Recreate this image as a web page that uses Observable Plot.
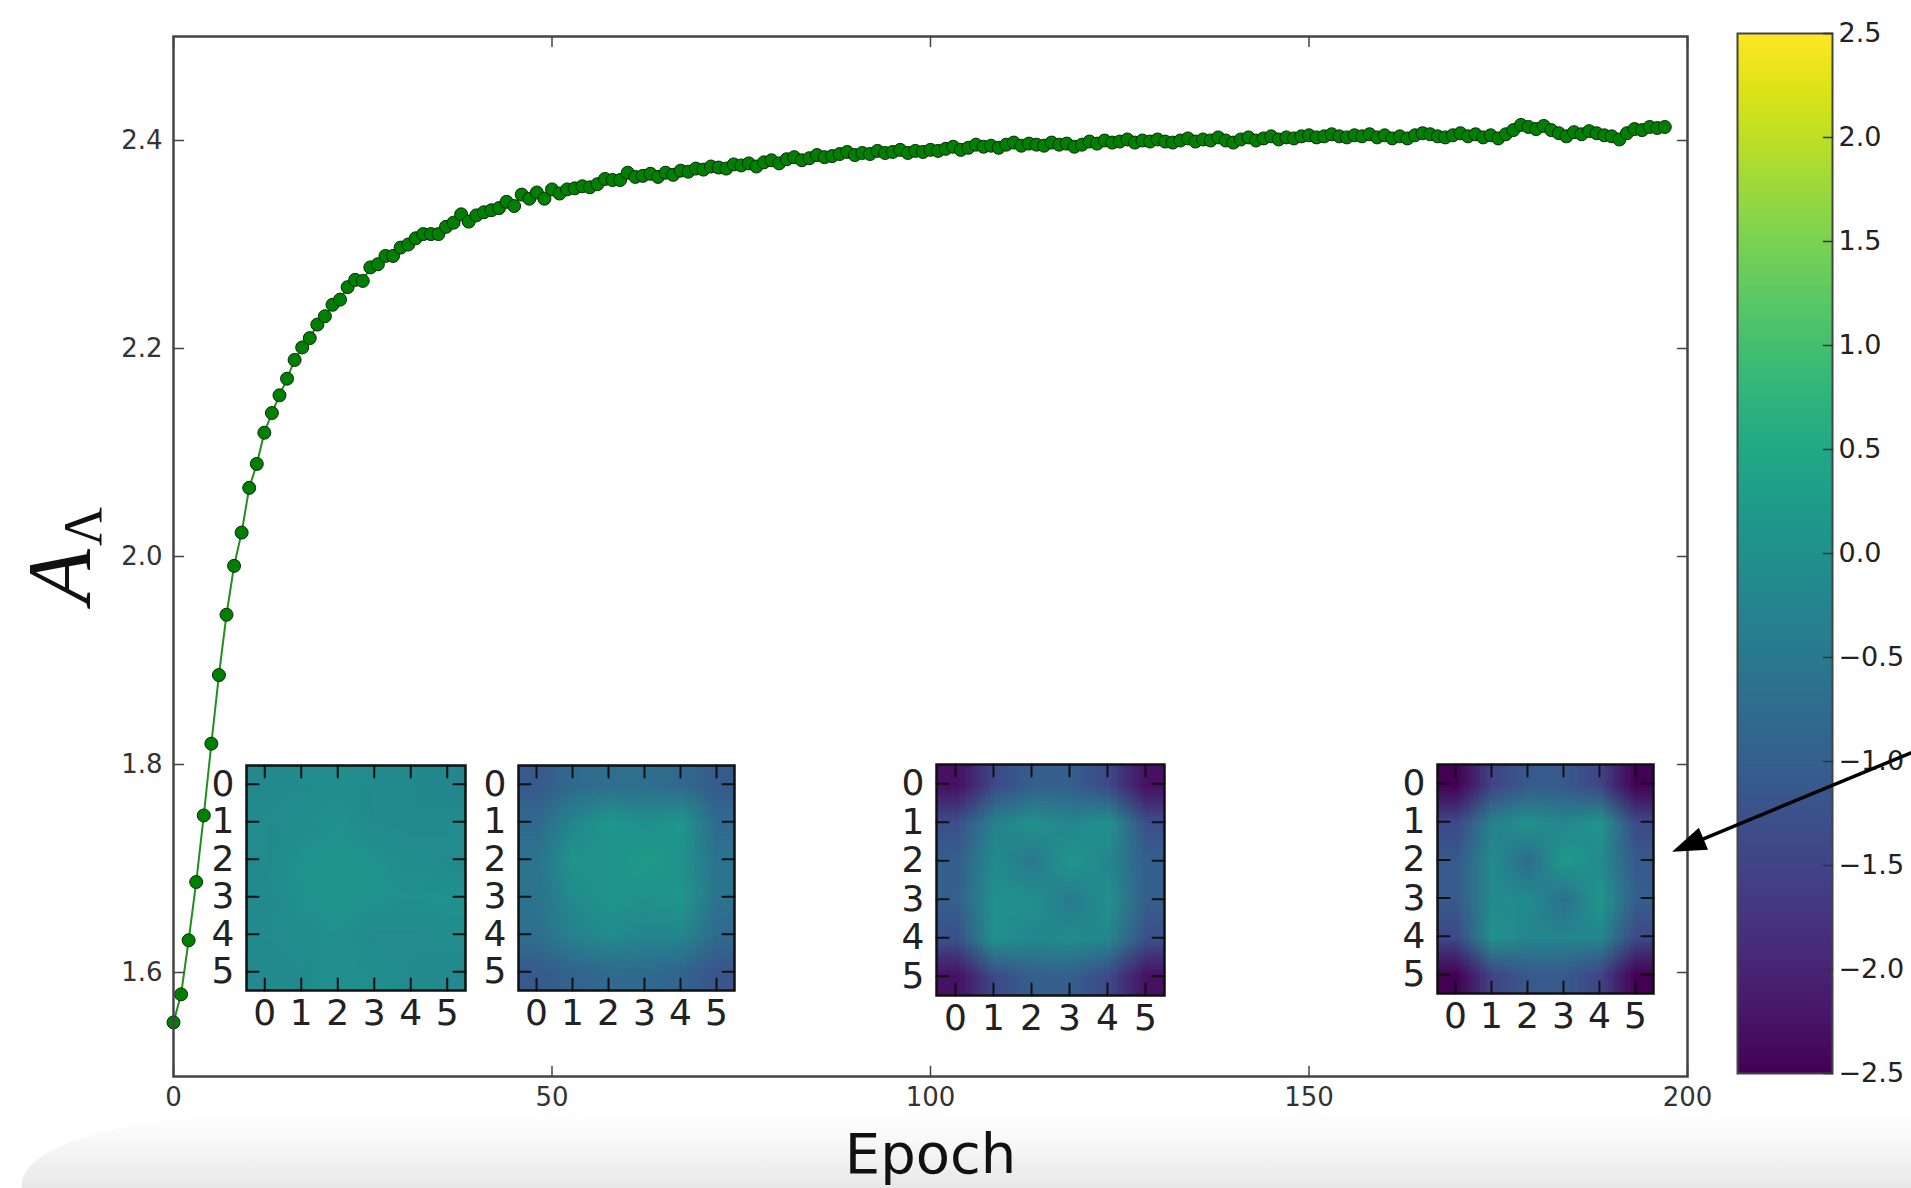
<!DOCTYPE html>
<html><head><meta charset="utf-8">
<script src="https://cdn.jsdelivr.net/npm/d3@7"></script>
<script src="https://cdn.jsdelivr.net/npm/@observablehq/plot@0.6"></script>
<style>
html,body{margin:0;padding:0;background:#fff;overflow:hidden;}
#page{position:relative;width:1911px;height:1188px;overflow:hidden;background:#fff;font-family:"DejaVu Sans",sans-serif;}
#band{position:absolute;left:22px;top:1112px;width:1920px;height:90px;border-top-left-radius:260px 72px;background:linear-gradient(to bottom,#ffffff 0%,#f7f7f7 35%,#e3e3e3 100%);}
</style></head><body><div id="page"><div id="band"></div></div>
<script>
// ---------- data ----------
const epochValues = [
1.552,1.579,1.631,1.687,1.751,1.820,1.886,1.944,1.991,2.023,
2.066,2.089,2.119,2.138,2.155,2.171,2.189,2.201,2.210,2.223,
2.231,2.242,2.247,2.259,2.266,2.265,2.278,2.281,2.289,2.289,
2.297,2.300,2.306,2.310,2.310,2.310,2.317,2.321,2.329,2.322,
2.328,2.331,2.333,2.335,2.341,2.337,2.348,2.344,2.350,2.344,
2.353,2.349,2.353,2.354,2.356,2.355,2.358,2.363,2.362,2.362,
2.369,2.365,2.366,2.368,2.365,2.369,2.367,2.371,2.370,2.373,
2.372,2.375,2.374,2.373,2.377,2.376,2.378,2.375,2.379,2.381,
2.378,2.382,2.384,2.381,2.383,2.386,2.384,2.385,2.387,2.389,
2.386,2.388,2.387,2.390,2.388,2.389,2.391,2.388,2.390,2.389,
2.391,2.390,2.392,2.394,2.391,2.393,2.396,2.394,2.395,2.393,
2.396,2.398,2.395,2.397,2.396,2.395,2.398,2.396,2.397,2.394,
2.396,2.399,2.397,2.400,2.398,2.399,2.401,2.398,2.400,2.399,
2.401,2.399,2.398,2.400,2.402,2.399,2.401,2.400,2.403,2.400,
2.398,2.401,2.403,2.400,2.402,2.404,2.401,2.403,2.402,2.404,
2.405,2.403,2.404,2.406,2.404,2.403,2.405,2.404,2.406,2.403,
2.405,2.402,2.404,2.402,2.405,2.407,2.406,2.404,2.403,2.405,
2.407,2.404,2.406,2.403,2.405,2.402,2.406,2.410,2.415,2.413,
2.411,2.414,2.410,2.407,2.404,2.408,2.406,2.409,2.407,2.405,
2.404,2.401,2.407,2.411,2.410,2.413,2.412,2.413
];
const xTicks = [0, 50, 100, 150, 200];
const yTicks = [1.6, 1.8, 2.0, 2.2, 2.4];
const colorbarTicks = [-2.5, -2.0, -1.5, -1.0, -0.5, 0.0, 0.5, 1.0, 1.5, 2.0, 2.5];
const insetTicks = [0, 1, 2, 3, 4, 5];

const inset1Matrix = [
  [-0.15, -0.10, -0.05, -0.10, -0.15, -0.20],
  [-0.10, -0.05,  0.00, -0.10, -0.15, -0.10],
  [-0.10,  0.05,  0.10,  0.05, -0.05, -0.10],
  [-0.15,  0.05,  0.10,  0.05,  0.00,  0.05],
  [-0.10, -0.05,  0.00, -0.10, -0.10, -0.05],
  [-0.15, -0.10,  0.00, -0.05, -0.10, -0.15]
];
const inset2Matrix = [
  [-1.10, -0.80, -0.70, -0.70, -0.80, -1.10],
  [-0.80, -0.20,  0.15, -0.05,  0.15, -0.80],
  [-0.60,  0.10,  0.00,  0.25,  0.00, -0.60],
  [-0.60, -0.10,  0.10,  0.00,  0.15, -0.60],
  [-0.70, -0.30, -0.10, -0.20, -0.20, -0.80],
  [-1.10, -0.90, -0.80, -0.80, -0.90, -1.20]
];
const inset3Matrix = [
  [-2.30, -1.40, -1.00, -1.00, -1.40, -2.30],
  [-1.30, -0.30,  0.00, -0.20,  0.05, -1.30],
  [-1.00, -0.10, -0.50,  0.15, -0.20, -1.00],
  [-1.00,  0.00,  0.00, -0.45,  0.00, -1.00],
  [-1.30,  0.05, -0.20, -0.10, -0.20, -1.30],
  [-2.30, -1.40, -1.00, -1.00, -1.40, -2.30]
];
const inset4Matrix = [
  [-2.50, -1.50, -1.10, -1.10, -1.50, -2.50],
  [-1.40, -0.30,  0.00, -0.20,  0.10, -1.40],
  [-1.10, -0.10, -0.75,  0.20, -0.10, -1.10],
  [-1.10, -0.10, -0.10, -0.65,  0.15, -1.00],
  [-1.40,  0.05, -0.20, -0.20, -0.20, -1.40],
  [-2.50, -1.50, -1.10, -1.10, -1.50, -2.50]
];
const arrowAnnotation = [{epoch: 198.6, value: 1.718}];

// ---------- helpers ----------
const tickShape = {draw(ctx, l) { ctx.moveTo(0, 0); ctx.lineTo(0, -l); }};
const arrowShape = {draw(ctx, l) {
  const h = 27, w = 9.5;
  ctx.moveTo(0, 0); ctx.lineTo(0, -l + h * 0.8);
  ctx.moveTo(0, -l); ctx.lineTo(-w, -l + h); ctx.lineTo(w, -l + h); ctx.closePath();
}};
const viridis = {type: "linear", scheme: "viridis", domain: [-2.5, 2.5]};
const page = document.getElementById("page");
function place(el, left, top) {
  el.style.position = "absolute";
  el.style.left = left + "px";
  el.style.top = top + "px";
  page.appendChild(el);
}

// ---------- colorbar ----------
const colorbar = Plot.plot({
  width: 211, height: 1188,
  marginLeft: 37, marginRight: 79, marginTop: 33, marginBottom: 115,
  style: {background: "transparent", overflow: "visible", color: "#222", fontFamily: "DejaVu Sans"},
  x: {domain: [0, 1], axis: null},
  y: {domain: [-2.5, 2.5]},
  color: viridis,
  marks: [
    Plot.raster(null, {x1: 0, x2: 1, y1: -2.5, y2: 2.5, fill: (x, y) => y, pixelSize: 1}),
    Plot.frame({stroke: "#444", strokeWidth: 2}),
    Plot.vector(colorbarTicks, {x: 1, y: d => d, length: 9, rotate: 270, anchor: "start", shape: tickShape, stroke: "#333", strokeWidth: 1.5}),
    Plot.axisY(colorbarTicks, {anchor: "right", tickSize: 0, tickPadding: 6, fontSize: 27, tickFormat: d3.format(".1f"), label: null})
  ]
});
place(colorbar, 1700, 0);

// ---------- main chart ----------
const pts = epochValues.map((v, i) => ({epoch: i, value: v}));
const main = Plot.plot({
  width: 1911, height: 1188,
  marginLeft: 173, marginRight: 224, marginTop: 36, marginBottom: 112,
  style: {background: "transparent", overflow: "visible", color: "#333", fontFamily: "DejaVu Sans"},
  x: {domain: [0, 200]},
  y: {domain: [1.5, 2.5]},
  marks: [
    Plot.line(pts, {x: "epoch", y: "value", stroke: "#1f8f1f", strokeWidth: 2}),
    Plot.dot(pts, {x: "epoch", y: "value", r: 6.5, fill: "#008000", stroke: "#0a2a0a", strokeWidth: 1}),
    Plot.frame({stroke: "#444", strokeWidth: 2.5}),
    Plot.vector(yTicks, {x: 0, y: d => d, length: 10, rotate: 90, anchor: "start", shape: tickShape, stroke: "#444", strokeWidth: 1.5}),
    Plot.vector(yTicks, {x: 200, y: d => d, length: 10, rotate: 270, anchor: "start", shape: tickShape, stroke: "#444", strokeWidth: 1.5}),
    Plot.vector(xTicks, {x: d => d, y: 1.5, length: 10, rotate: 0, anchor: "start", shape: tickShape, stroke: "#444", strokeWidth: 1.5}),
    Plot.vector(xTicks, {x: d => d, y: 2.5, length: 10, rotate: 180, anchor: "start", shape: tickShape, stroke: "#444", strokeWidth: 1.5}),
    Plot.axisX(xTicks, {anchor: "bottom", tickSize: 0, tickPadding: 11, fontSize: 26, tickFormat: d => String(d), label: null}),
    Plot.axisY(yTicks, {anchor: "left", tickSize: 0, tickPadding: 11, fontSize: 26, tickFormat: d3.format(".1f"), label: null}),
    Plot.text(["Epoch"], {text: d => d, frameAnchor: "bottom", lineAnchor: "bottom", dy: 96, fontSize: 56, fill: "#111"}),
    Plot.text(["A"], {text: d => d, frameAnchor: "left", rotate: -90, lineAnchor: "bottom", textAnchor: "middle", dx: -84, dy: 20, fontSize: 90, fontFamily: "Liberation Serif", fontStyle: "italic", fill: "#111"}),
    Plot.text(["Λ"], {text: d => d, frameAnchor: "left", rotate: -90, lineAnchor: "bottom", textAnchor: "middle", dx: -73, dy: -30, fontSize: 54, fontFamily: "Liberation Serif", fill: "#111"}),
    Plot.vector(arrowAnnotation, {x: "epoch", y: "value", length: 300, rotate: 247.5, anchor: "end", shape: arrowShape, stroke: "#000", fill: "#000", strokeWidth: 3.5, strokeLinejoin: "miter"})
  ]
});
place(main, 0, 0);

// ---------- insets ----------
function inset(matrix, fw, fh) {
  const ml = 56, mr = 6, mt = 6, mb = 56;
  const tk = {length: 12, anchor: "start", shape: tickShape, stroke: "#111", strokeWidth: 2};
  return Plot.plot({
    width: fw + ml + mr, height: fh + mt + mb,
    marginLeft: ml, marginRight: mr, marginTop: mt, marginBottom: mb,
    style: {background: "transparent", overflow: "visible", color: "#222", fontFamily: "DejaVu Sans"},
    x: {domain: [-0.5, 5.5]},
    y: {domain: [-0.5, 5.5], reverse: true},
    color: viridis,
    marks: [
      Plot.raster(matrix.flat(), {width: 6, height: 6, x1: -0.5, x2: 5.5, y1: -0.5, y2: 5.5, fill: d => d, imageRendering: "auto"}),
      Plot.frame({stroke: "#111", strokeWidth: 2.5}),
      Plot.vector(insetTicks, {x: d => d, y: 5.5, rotate: 0, ...tk}),
      Plot.vector(insetTicks, {x: d => d, y: -0.5, rotate: 180, ...tk}),
      Plot.vector(insetTicks, {x: -0.5, y: d => d, rotate: 90, ...tk}),
      Plot.vector(insetTicks, {x: 5.5, y: d => d, rotate: 270, ...tk}),
      Plot.axisX(insetTicks, {anchor: "bottom", tickSize: 0, tickPadding: 9, fontSize: 36, label: null}),
      Plot.axisY(insetTicks, {anchor: "left", tickSize: 0, tickPadding: 12, fontSize: 36, label: null})
    ]
  });
}
place(inset(inset1Matrix, 219, 225), 246 - 56, 765 - 6);
place(inset(inset2Matrix, 216, 225), 518 - 56, 765 - 6);
place(inset(inset3Matrix, 228, 231), 936 - 56, 764 - 6);
place(inset(inset4Matrix, 216, 229), 1437 - 56, 764 - 6);
</script>
</body></html>
